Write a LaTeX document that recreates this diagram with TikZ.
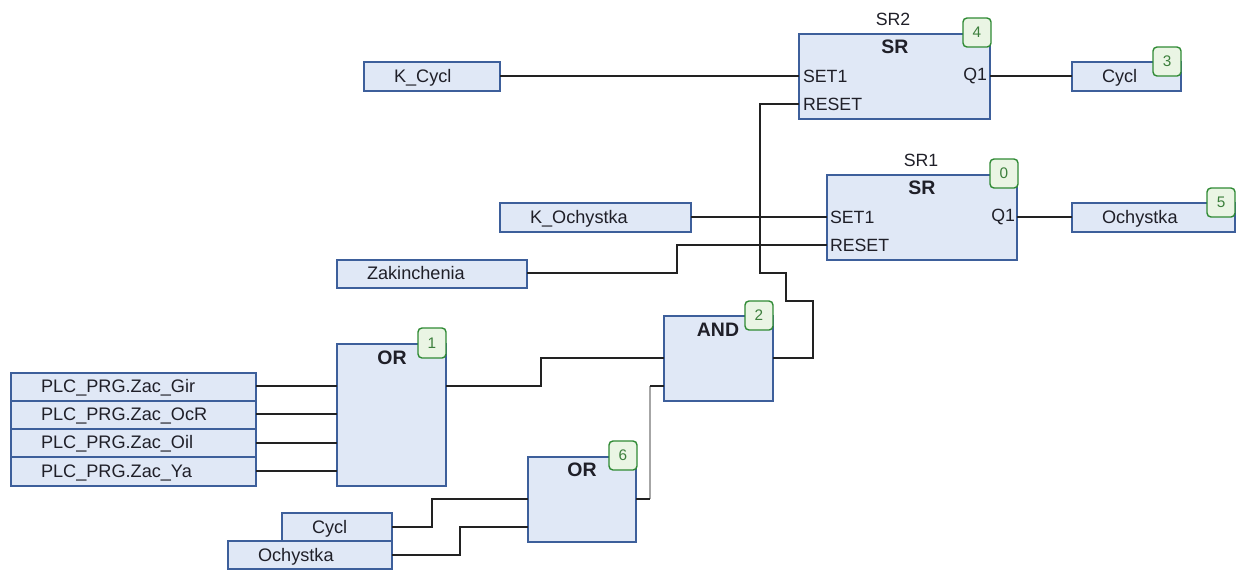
\documentclass[tikz,border=0pt]{standalone}
\usepackage{fontspec}
\setmainfont{Liberation Sans}
\usetikzlibrary{fit}
\definecolor{boxfill}{HTML}{E0E8F6}
\definecolor{boxline}{HTML}{3D5F9B}
\definecolor{badgefill}{HTML}{EAF5E4}
\definecolor{badgeline}{HTML}{2F8A34}
\definecolor{badgetext}{HTML}{3C7F3C}
\definecolor{wirecol}{HTML}{222222}
\definecolor{txtcol}{HTML}{1F1F28}
\tikzset{
  x=0.75pt,y=-0.75pt,
  fbox/.style={draw=boxline,fill=boxfill,line width=1.05pt,inner sep=0pt,outer sep=0pt},
  badge/.style={draw=badgeline,fill=badgefill,line width=1.05pt,rounded corners=3pt,inner sep=0pt,outer sep=0pt},
  digit/.style={inner sep=0pt,outer sep=0pt,text=badgetext,font=\fontsize{11.5pt}{12pt}\selectfont},
  lbl/.style={inner sep=0pt,outer sep=0pt,text=txtcol,anchor=base west,font=\fontsize{13.6pt}{15pt}\selectfont},
  titlelbl/.style={inner sep=0pt,outer sep=0pt,text=txtcol,font=\fontsize{14.6pt}{15pt}\selectfont\bfseries},
  pinlbl/.style={inner sep=0pt,outer sep=0pt,text=txtcol,font=\fontsize{13.3pt}{15pt}\selectfont},
  wire/.style={draw=wirecol,line width=1.3pt,line join=miter},
  thinwire/.style={draw=black!35,line width=0.9pt},
}
\begin{document}
\begin{tikzpicture}
\useasboundingbox (0,0) rectangle (1242,569);
% blocks
\node[fbox,fit={(799,34)(990,119)}] (sr2) {};
\node[fbox,fit={(827,175)(1017,260)}] (sr1) {};
\node[fbox,fit={(664,316)(773,401)}] (and2) {};
\node[fbox,fit={(337,344)(446,486)}] (or1) {};
\node[fbox,fit={(528,457)(636,542)}] (or6) {};
% variable boxes
\node[fbox,fit={(364,62)(500,91)}] (kcycl) {};
\node[fbox,fit={(500,203)(691,232)}] (koch) {};
\node[fbox,fit={(337,260)(527,288)}] (zak) {};
\node[fbox,fit={(1072,62)(1181,91)}] (cyclout) {};
\node[fbox,fit={(1072,203)(1235,232)}] (ochout) {};
\node[fbox,fit={(11,373)(256,401)}] (gir) {};
\node[fbox,fit={(11,401)(256,429)}] (ocr) {};
\node[fbox,fit={(11,429)(256,457)}] (oil) {};
\node[fbox,fit={(11,457)(256,486)}] (ya) {};
\node[fbox,fit={(282,513)(392,541)}] (cyclin) {};
\node[fbox,fit={(228,541)(392,569)}] (ochin) {};
% badges
\node[badge,fit={(963,18)(991,47)}] (b4) {};
\node[badge,fit={(1153,47)(1181,76)}] (b3) {};
\node[badge,fit={(990,159)(1018,188)}] (b0) {};
\node[badge,fit={(1207,188)(1235,217)}] (b5) {};
\node[badge,fit={(745,301)(773,330)}] (b2) {};
\node[badge,fit={(418,328)(446,358)}] (b1) {};
\node[badge,fit={(609,441)(637,470)}] (b6) {};
\node[digit] (d4) at (b4) {4};
\node[digit] (d3) at (b3) {3};
\node[digit] (d0) at (b0) {0};
\node[digit] (d5) at (b5) {5};
\node[digit] (d2) at (b2) {2};
\node[digit] (d1) at (b1) {1};
\node[digit] (d6) at (b6) {6};
% texts
\node[lbl] (tk) at (394,82) {K\_Cycl};
\node[lbl] (to) at (530,223) {K\_Ochystka};
\node[lbl] (tz) at (367,279) {Zakinchenia};
\node[lbl] (tc) at (1102,82) {Cycl};
\node[lbl] (th) at (1102,223) {Ochystka};
\node[lbl] (t1) at (41,392) {PLC\_PRG.Zac\_Gir};
\node[lbl] (t2) at (41,420) {PLC\_PRG.Zac\_OcR};
\node[lbl] (t3) at (41,448) {PLC\_PRG.Zac\_Oil};
\node[lbl] (t4) at (41,477) {PLC\_PRG.Zac\_Ya};
\node[lbl] (t5) at (312,533) {Cycl};
\node[lbl] (t6) at (258,561) {Ochystka};
\node[titlelbl] (ts2) at (895,47) {SR};
\node[titlelbl] (ts1) at (922,188) {SR};
\node[titlelbl] (ta) at (718,330) {AND};
\node[titlelbl] (tr1) at (392,358) {OR};
\node[titlelbl] (tr6) at (582,470) {OR};
\node[pinlbl] (n2) at (893,19) {SR2};
\node[pinlbl] (n1) at (921,160) {SR1};
\node[pinlbl,anchor=west] (s2) at (803,76) {SET1};
\node[pinlbl,anchor=west] (r2) at (803,104) {RESET};
\node[pinlbl,anchor=east] (q2) at (987,76) {Q1};
\node[pinlbl,anchor=west] (s1) at (830,217) {SET1};
\node[pinlbl,anchor=west] (r1) at (830,245) {RESET};
\node[pinlbl,anchor=east] (q1) at (1015,217) {Q1};
% pin coordinates on block edges
\coordinate (sr2set) at (799,76);
\coordinate (sr2res) at (799,104);
\coordinate (sr2q) at (990,76);
\coordinate (sr1set) at (827,217);
\coordinate (sr1res) at (827,245);
\coordinate (sr1q) at (1017,217);
\coordinate (andin1) at (664,358);
\coordinate (andin2) at (664,386);
\coordinate (andout) at (773,358);
\coordinate (or1out) at (446,386);
\coordinate (or1a) at (337,386);
\coordinate (or1b) at (337,414);
\coordinate (or1c) at (337,443);
\coordinate (or1d) at (337,471);
\coordinate (or6in1) at (528,499);
\coordinate (or6in2) at (528,527);
\coordinate (or6out) at (636,499);
\coordinate (jog) at (650,386);
\coordinate (jogb) at (650,499);
\coordinate (zk) at (527,273);
% wires
\draw[wire] (kcycl.east |- sr2set) -- (sr2set);
\draw[wire] (koch.east |- sr1set) -- (sr1set);
\draw[wire] (sr2q) -- (cyclout.west |- sr2q);
\draw[wire] (sr1q) -- (ochout.west |- sr1q);
\draw[wire] (zak.east |- zk) -- (677,273) -- (677,245) -- (sr1res);
\draw[wire] (andout) -- (813,358) -- (813,301) -- (786,301) -- (786,273) -- (760,273) -- (760,104) -- (sr2res);
\draw[wire] (or1out) -- (541,386) -- (541,358) -- (andin1);
\draw[wire] (gir.east |- or1a) -- (or1a);
\draw[wire] (ocr.east |- or1b) -- (or1b);
\draw[wire] (oil.east |- or1c) -- (or1c);
\draw[wire] (ya.east |- or1d) -- (or1d);
\draw[wire] (cyclin.east) -- (432,527) -- (432,499) -- (or6in1);
\draw[wire] (ochin.east) -- (460,555) -- (460,527) -- (or6in2);
\draw[thinwire] (jogb) -- (jog);
\draw[wire] (or6out) -- (jogb);
\draw[wire] (jog) -- (andin2);
\end{tikzpicture}
\end{document}
